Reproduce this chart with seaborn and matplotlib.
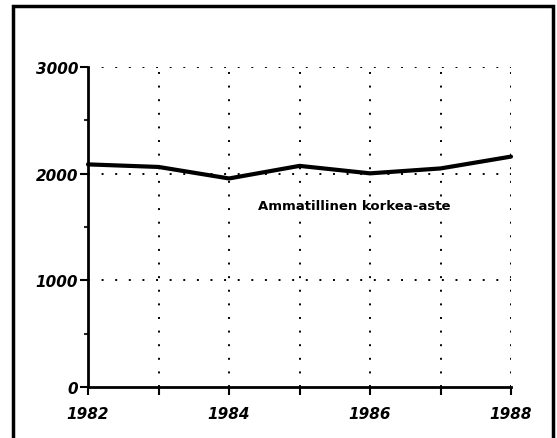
import pandas as pd
import matplotlib
matplotlib.use('Agg')
import matplotlib.pyplot as plt
from matplotlib.patches import Rectangle
from matplotlib.ticker import MultipleLocator
import seaborn as sns

years = [1982, 1983, 1984, 1985, 1986, 1987, 1988]
values = [2087, 2063, 1955, 2073, 2003, 2049, 2160]
series_label = 'Ammatillinen korkea-aste'
y_ticks = [0, 1000, 2000, 3000]
x_ticklabels = ['1982', '', '1984', '', '1986', '', '1988']

df = pd.DataFrame({'Vuosi': years, 'Arvo': values})

sns.set_style('white')
plt.rcParams['font.family'] = ['DejaVu Sans']

fig = plt.figure(figsize=(5.57, 4.39), dpi=100)
ax = fig.add_axes([88/557, 1 - 388/439, (511-88)/557, (388-68)/439])

sns.lineplot(data=df, x='Vuosi', y='Arvo', color='black', linewidth=3, ax=ax, clip_on=False)

ax.set_xlim(1982, 1988)
ax.set_ylim(0, 3000)
ax.set_xticks(years)
ax.set_xticklabels(x_ticklabels)
ax.set_yticks(y_ticks)
ax.yaxis.set_minor_locator(MultipleLocator(500))
ax.set_xlabel('')
ax.set_ylabel('')

# pisteviivaruudukko
for y in y_ticks[1:]:
    ax.axhline(y, color='black', linestyle=(0, (1, 6)), linewidth=1.4, zorder=0)
for x in years[1:]:
    ax.axvline(x, color='black', linestyle=(0, (1, 6)), linewidth=1.4, zorder=0)

for s in ['top', 'right']:
    ax.spines[s].set_visible(False)
for s in ['left', 'bottom']:
    ax.spines[s].set_linewidth(2)
    ax.spines[s].set_color('black')

ax.tick_params(bottom=True, left=True, colors='black', labelcolor='black')
ax.tick_params(axis='y', which='major', direction='out', length=6, width=1.5, pad=1)
ax.tick_params(axis='y', which='minor', left=True, direction='out', length=3, width=1.5)
ax.tick_params(axis='x', which='major', direction='out', length=6, width=1.5, pad=8)
for lab in ax.get_xticklabels() + ax.get_yticklabels():
    lab.set_fontsize(11)
    lab.set_fontweight('bold')
    lab.set_fontstyle('italic')

ax.text(1984.41, 1700, series_label, fontsize=9.5, fontweight='bold', color='black',
        ha='left', va='center')

fig.patches.append(Rectangle((13/557, -0.05), (553-13)/557, 1.05 - 7/439,
                             transform=fig.transFigure, fill=False,
                             edgecolor='black', linewidth=2.5))

fig.savefig('out.png', dpi=100)
